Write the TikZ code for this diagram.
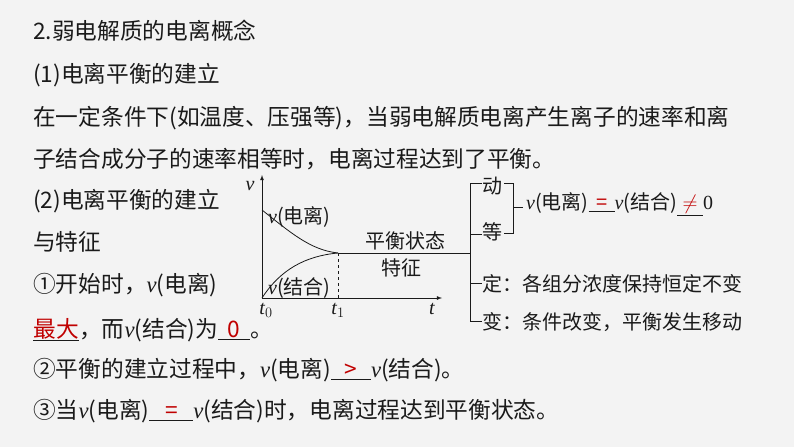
\documentclass[tikz,border=0pt]{standalone}
\usepackage{fontspec}
\setmainfont{Noto Sans CJK SC}
\newfontfamily\ser{Liberation Serif}
\definecolor{bg}{HTML}{F3F3F3}
\definecolor{ansred}{HTML}{C00000}
\definecolor{ink}{HTML}{1A1A1A}
\newcommand{\va}{{\ser\itshape v}}
\newcommand{\ans}[2]{\underline{\makebox[#2][c]{\color{ansred}#1}}}
\begin{document}
\begin{tikzpicture}[x=1pt,y=-1pt,
  txt/.style={anchor=west,inner sep=0pt,font=\fontsize{22.7}{26}\selectfont,text=ink},
  sm/.style={inner sep=0pt,font=\fontsize{20}{23}\selectfont,text=ink},
  ln/.style={line width=0.8pt,draw=ink}]
\fill[bg] (0,0) rectangle (794,447);
\useasboundingbox (0,0) rectangle (794,447);
\node[txt] (l1) at (33,31) {2.弱电解质的电离概念};
\node[txt] (l2) at (33,75) {(1)电离平衡的建立};
\node[txt] (l3) at (33,118) {在一定条件下(如温度、压强等)，当弱电解质电离产生离子的速率和离};
\node[txt] (l4) at (33,159) {子结合成分子的速率相等时，电离过程达到了平衡。};
\node[txt] (l5) at (33,201) {(2)电离平衡的建立};
\node[txt] (l6) at (33,242) {与特征};
\node[txt] (l7) at (33,285) {①开始时，\va(电离)};
\node[txt] (l8) at (33,330) {\ans{最大}{46pt}，而\va(结合)为\ans{0}{32pt}。};
\node[txt] (l9) at (33,370) {②平衡的建立过程中，\va(电离)\ans{>}{40pt}\va(结合)。};
\node[txt] (l10) at (33,411) {③当\va(电离)\ans{=}{44pt}\va(结合)时，电离过程达到平衡状态。};
% graph
\coordinate (o) at (262,298);
\coordinate (yt) at (262,175);
\coordinate (xt) at (442,298);
\coordinate (e) at (338,253);
\draw[ln,-latex] (o) -- (yt);
\draw[ln,-latex] (o) -- (xt);
\draw[ln,dashed] (e) -- (338,298);
\draw[ln] (262,210) .. controls (290,232) and (310,250) .. (e);
\draw[ln] (o) .. controls (280,270) and (305,256) .. (e);
\node[sm] (v) at (250,186) {\va};
\node[sm] (t0) at (266,310) {{\ser\itshape t}$_0$};
\node[sm] (t1) at (338,310) {{\ser\itshape t}$_1$};
\node[sm] (t) at (432,309) {{\ser\itshape t}};
\node[sm,anchor=west] (vd) at (268,217) {\va(电离)};
\node[sm,anchor=west] (vj) at (268,288) {\va(结合)};
\node[sm] (s1) at (405,241) {平衡状态};
\node[sm] (s2) at (401,268) {特征};
% bracket
\coordinate (b) at (470,253);
\draw[ln] (e) -- (b);
\draw[ln] (482,183) -- (470,183) -- (470,321) -- (482,321);
\draw[ln] (470,234) -- (482,234);
\draw[ln] (470,283) -- (482,283);
\node[sm,anchor=west] (d1) at (482,186) {动};
\node[sm,anchor=west] (d2) at (482,232) {等};
\node[sm,anchor=west] (d3) at (482,284) {定：各组分浓度保持恒定不变};
\node[sm,anchor=west] (d4) at (482,322) {变：条件改变，平衡发生移动};
\draw[ln] (504,183) -- (513,183) -- (513,233) -- (504,233);
\draw[ln] (513,207) -- (523,207);
\node[sm,anchor=west] (eq) at (526,204) {\va(电离)\ans{=}{26pt}\va(结合)\ans{$\neq$}{26pt}{\ser 0}};
\end{tikzpicture}
\end{document}
